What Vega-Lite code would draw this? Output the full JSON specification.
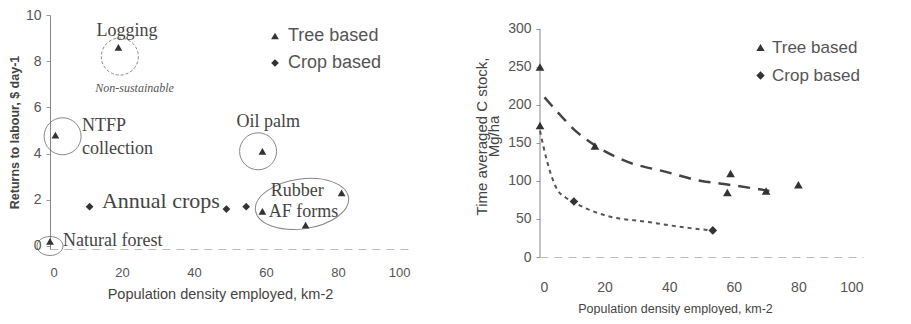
{
  "$schema": "https://vega.github.io/schema/vega-lite/v6.json",
  "background": "white",
  "padding": {"left": 8, "top": 8, "right": 0, "bottom": 0},
  "spacing": 63,
  "config": {
    "view": {"stroke": null},
    "axis": {"labelFont": "Liberation Sans", "titleFont": "Liberation Sans", "labelColor": "#555", "titleColor": "#444", "domainColor": "#888", "tickColor": "#999", "grid": false},
    "legend": {"labelFont": "Liberation Sans", "labelColor": "#555", "symbolFillColor": "#333", "symbolStrokeColor": "#333", "padding": 0}
  },
  "resolve": {"scale": {"shape": "independent", "x": "independent", "y": "independent"}, "legend": {"shape": "independent"}},
  "hconcat": [
    {
      "width": 360,
      "height": 234,
      "layer": [
        {
          "data": {"values": [
            {"density": 0, "returns": 0.2, "type": "Tree based"},
            {"density": 1.5, "returns": 4.8, "type": "Tree based"},
            {"density": 19, "returns": 8.6, "type": "Tree based"},
            {"density": 59, "returns": 4.1, "type": "Tree based"},
            {"density": 81, "returns": 2.3, "type": "Tree based"},
            {"density": 59, "returns": 1.5, "type": "Tree based"},
            {"density": 71, "returns": 0.9, "type": "Tree based"},
            {"density": 11, "returns": 1.7, "type": "Crop based"},
            {"density": 49, "returns": 1.6, "type": "Crop based"},
            {"density": 54.5, "returns": 1.7, "type": "Crop based"}
          ]},
          "mark": {"type": "point", "filled": true, "color": "#333", "opacity": 1, "size": 60},
          "encoding": {
            "x": {"field": "density", "type": "quantitative", "scale": {"domain": [0, 100], "nice": false},
              "axis": {"values": [0, 20, 40, 60, 80, 100], "title": "Population density employed, km-2", "titleFontSize": 14.5, "titleFontWeight": "normal", "labelFontSize": 13, "tickSize": 0, "labelPadding": 17, "titlePadding": 8, "domainDash": [8, 6], "domainColor": "#bbb", "titleX": 170}},
            "y": {"field": "returns", "type": "quantitative", "scale": {"domain": [-0.13, 10], "nice": false, "zero": false},
              "axis": {"values": [0, 1, 2, 3, 4, 5, 6, 7, 8, 9, 10], "title": "Returns to labour, $ day-1", "titleFontSize": 12.5, "titleFontWeight": "bold", "labelFontSize": 14, "tickSize": 4, "labelPadding": 5, "titlePadding": 4}},
            "shape": {"field": "type", "type": "nominal", "scale": {"domain": ["Tree based", "Crop based"], "range": ["triangle-up", "diamond"]},
              "legend": {"title": null, "orient": "none", "legendX": 216, "legendY": 12, "labelFontSize": 18, "symbolSize": 60, "rowPadding": 9, "labelOffset": 4}}
          }
        },
        {
          "data": {"values": [{"density": 3.5, "returns": 4.75}, {"density": 57.8, "returns": 4.1}]},
          "mark": {"type": "point", "shape": "circle", "filled": false, "stroke": "#555", "strokeWidth": 1, "size": 1369},
          "encoding": {"x": {"field": "density", "type": "quantitative"}, "y": {"field": "returns", "type": "quantitative"}}
        },
        {
          "data": {"values": [{"density": 19.4, "returns": 8.2}]},
          "mark": {"type": "point", "shape": "circle", "filled": false, "stroke": "#555", "strokeWidth": 1, "strokeDash": [3, 2], "size": 1369},
          "encoding": {"x": {"field": "density", "type": "quantitative"}, "y": {"field": "returns", "type": "quantitative"}}
        },
        {
          "data": {"values": [{"density": 70, "returns": 1.82}]},
          "mark": {"type": "point", "shape": "M -1 0 A 1 0.53 0 1 0 1 0 A 1 0.53 0 1 0 -1 0 Z", "angle": -8, "filled": false, "stroke": "#555", "strokeWidth": 1, "size": 8836},
          "encoding": {"x": {"field": "density", "type": "quantitative"}, "y": {"field": "returns", "type": "quantitative"}}
        },
        {
          "data": {"values": [{"density": 0, "returns": 0}]},
          "mark": {"type": "point", "shape": "M -1 0 A 1 0.73 0 1 0 1 0 A 1 0.73 0 1 0 -1 0 Z", "filled": false, "stroke": "#555", "strokeWidth": 1, "size": 676},
          "encoding": {"x": {"field": "density", "type": "quantitative"}, "y": {"field": "returns", "type": "quantitative"}}
        },
        {
          "data": {"values": [
            {"density": 21.4, "returns": 9.3, "label": "Logging"},
            {"density": 60.6, "returns": 5.37, "label": "Oil palm"},
            {"density": 68.7, "returns": 2.38, "label": "Rubber"},
            {"density": 70.4, "returns": 1.47, "label": "AF forms"}
          ]},
          "mark": {"type": "text", "font": "Liberation Serif", "fontSize": 18, "color": "#444", "align": "center", "baseline": "middle"},
          "encoding": {"x": {"field": "density", "type": "quantitative"}, "y": {"field": "returns", "type": "quantitative"}, "text": {"field": "label"}}
        },
        {
          "data": {"values": [
            {"density": 8.9, "returns": 5.2, "label": "NTFP"},
            {"density": 8.9, "returns": 4.2, "label": "collection"},
            {"density": 3.6, "returns": 0.22, "label": "Natural forest"}
          ]},
          "mark": {"type": "text", "font": "Liberation Serif", "fontSize": 18, "color": "#444", "align": "left", "baseline": "middle"},
          "encoding": {"x": {"field": "density", "type": "quantitative"}, "y": {"field": "returns", "type": "quantitative"}, "text": {"field": "label"}}
        },
        {
          "data": {"values": [{"density": 30.8, "returns": 1.95, "label": "Annual crops"}]},
          "mark": {"type": "text", "font": "Liberation Serif", "fontSize": 22, "color": "#444", "align": "center", "baseline": "middle"},
          "encoding": {"x": {"field": "density", "type": "quantitative"}, "y": {"field": "returns", "type": "quantitative"}, "text": {"field": "label"}}
        },
        {
          "data": {"values": [{"density": 23.5, "returns": 6.84, "label": "Non-sustainable"}]},
          "mark": {"type": "text", "font": "Liberation Serif", "fontSize": 12, "fontStyle": "italic", "color": "#555", "align": "center", "baseline": "middle"},
          "encoding": {"x": {"field": "density", "type": "quantitative"}, "y": {"field": "returns", "type": "quantitative"}, "text": {"field": "label"}}
        }
      ]
    },
    {
      "width": 323,
      "height": 242,
      "layer": [
        {
          "data": {"values": [{"x0": 0, "y0": 0, "y1": 300}]},
          "mark": {"type": "rule", "color": "#888", "strokeWidth": 1},
          "encoding": {"x": {"field": "x0", "type": "quantitative"}, "y": {"field": "y0", "type": "quantitative"}, "y2": {"field": "y1"}}
        },
        {
          "data": {"values": [
            {"density": 1.4, "stock": 210}, {"density": 6, "stock": 188}, {"density": 11, "stock": 166},
            {"density": 16.6, "stock": 148}, {"density": 26, "stock": 127}, {"density": 39, "stock": 112},
            {"density": 50, "stock": 100}, {"density": 57, "stock": 96}, {"density": 68, "stock": 89}, {"density": 71, "stock": 87}
          ]},
          "mark": {"type": "line", "color": "#444", "strokeWidth": 2.5, "strokeDash": [12, 8], "interpolate": "monotone"},
          "encoding": {"x": {"field": "density", "type": "quantitative"}, "y": {"field": "stock", "type": "quantitative"}}
        },
        {
          "data": {"values": [
            {"density": 0, "stock": 166}, {"density": 2, "stock": 129}, {"density": 5.3, "stock": 89},
            {"density": 8, "stock": 78}, {"density": 10.4, "stock": 72}, {"density": 20, "stock": 55},
            {"density": 33.5, "stock": 46}, {"density": 46.5, "stock": 38}, {"density": 53, "stock": 35}
          ]},
          "mark": {"type": "line", "color": "#555", "strokeWidth": 2, "strokeDash": [4, 4], "interpolate": "monotone"},
          "encoding": {"x": {"field": "density", "type": "quantitative"}, "y": {"field": "stock", "type": "quantitative"}}
        },
        {
          "data": {"values": [
            {"density": 0, "stock": 250, "type": "Tree based"},
            {"density": 0, "stock": 173, "type": "Tree based"},
            {"density": 17, "stock": 146, "type": "Tree based"},
            {"density": 59, "stock": 110, "type": "Tree based"},
            {"density": 58, "stock": 85, "type": "Tree based"},
            {"density": 70, "stock": 87, "type": "Tree based"},
            {"density": 80, "stock": 95, "type": "Tree based"},
            {"density": 10.5, "stock": 73, "type": "Crop based"},
            {"density": 53.5, "stock": 35, "type": "Crop based"}
          ]},
          "mark": {"type": "point", "filled": true, "color": "#333", "opacity": 1, "size": 75},
          "encoding": {
            "x": {"field": "density", "type": "quantitative", "scale": {"domain": [0, 100], "nice": false},
              "axis": {"values": [0, 20, 40, 60, 80, 100], "title": "Population density employed, km-2", "titleFontSize": 12.5, "titleFontWeight": "normal", "labelFontSize": 14, "tickSize": 0, "labelPadding": 23, "titlePadding": 8, "domainDash": [8, 6], "domainColor": "#bbb", "titleX": 135, "labelFlush": true}},
            "y": {"field": "stock", "type": "quantitative", "scale": {"domain": [0, 318.4], "nice": false},
              "axis": {"values": [0, 50, 100, 150, 200, 250, 300], "title": ["Time averaged C stock,", "Mg/ha"], "titleFontSize": 15, "titleFontWeight": "normal", "titleLineHeight": 12, "labelFontSize": 14, "tickSize": 4, "labelPadding": 5, "titlePadding": 6, "domain": false}},
            "shape": {"field": "type", "type": "nominal", "scale": {"domain": ["Tree based", "Crop based"], "range": ["triangle-up", "diamond"]},
              "legend": {"title": null, "orient": "none", "legendX": 212, "legendY": 24, "labelFontSize": 17, "symbolSize": 70, "rowPadding": 10, "labelOffset": 3}}
          }
        }
      ]
    }
  ]
}
